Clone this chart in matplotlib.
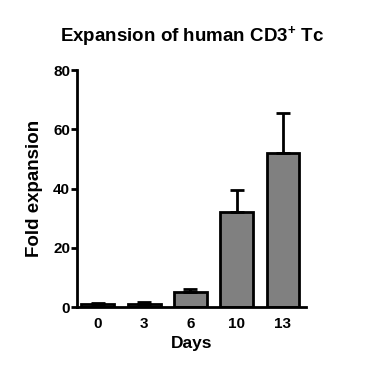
import matplotlib
matplotlib.use('Agg')
import matplotlib.pyplot as plt

# data
days = ['0', '3', '6', '10', '13']
fold = [1.0, 1.2, 5.1, 32.0, 52.0]
err = [0.3, 0.4, 1.0, 7.6, 13.4]

plt.rcParams['font.family'] = 'Liberation Sans'
plt.rcParams['font.weight'] = 'bold'
plt.rcParams['mathtext.fontset'] = 'custom'
plt.rcParams['mathtext.rm'] = 'Liberation Sans:bold'
plt.rcParams['mathtext.bf'] = 'Liberation Sans:bold'

fig = plt.figure(figsize=(3.67, 3.67), dpi=100)
ax = fig.add_axes([0.21, 0.163, 0.624, 0.646])

x = list(range(len(days)))
ax.bar(x, fold, width=0.71, color='#808080', edgecolor='black', linewidth=2,
       yerr=[[0] * len(err), err], error_kw=dict(ecolor='black', elinewidth=2,
       capsize=5, capthick=2), zorder=2)

ax.set_xlim(-0.45, 4.5)
ax.set_ylim(0, 80)
ax.set_yticks([0, 20, 40, 60, 80])
ax.set_xticks(x)
ax.set_xticklabels(days)

for s in ['top', 'right']:
    ax.spines[s].set_visible(False)
for s in ['left', 'bottom']:
    ax.spines[s].set_linewidth(2)

ax.tick_params(axis='y', direction='out', length=4, width=2, labelsize=11, pad=1)
ax.tick_params(axis='x', length=0, labelsize=11, pad=7)

ax.set_xlabel('Days', fontsize=12.5, fontweight='bold', labelpad=4)
ax.set_ylabel('Fold expansion', fontsize=13.5, fontweight='bold', labelpad=7)
ax.set_title(r'Expansion of human CD3$^{+}$ Tc', fontsize=13.5, fontweight='bold', pad=20)

fig.savefig('out.png', dpi=100)
